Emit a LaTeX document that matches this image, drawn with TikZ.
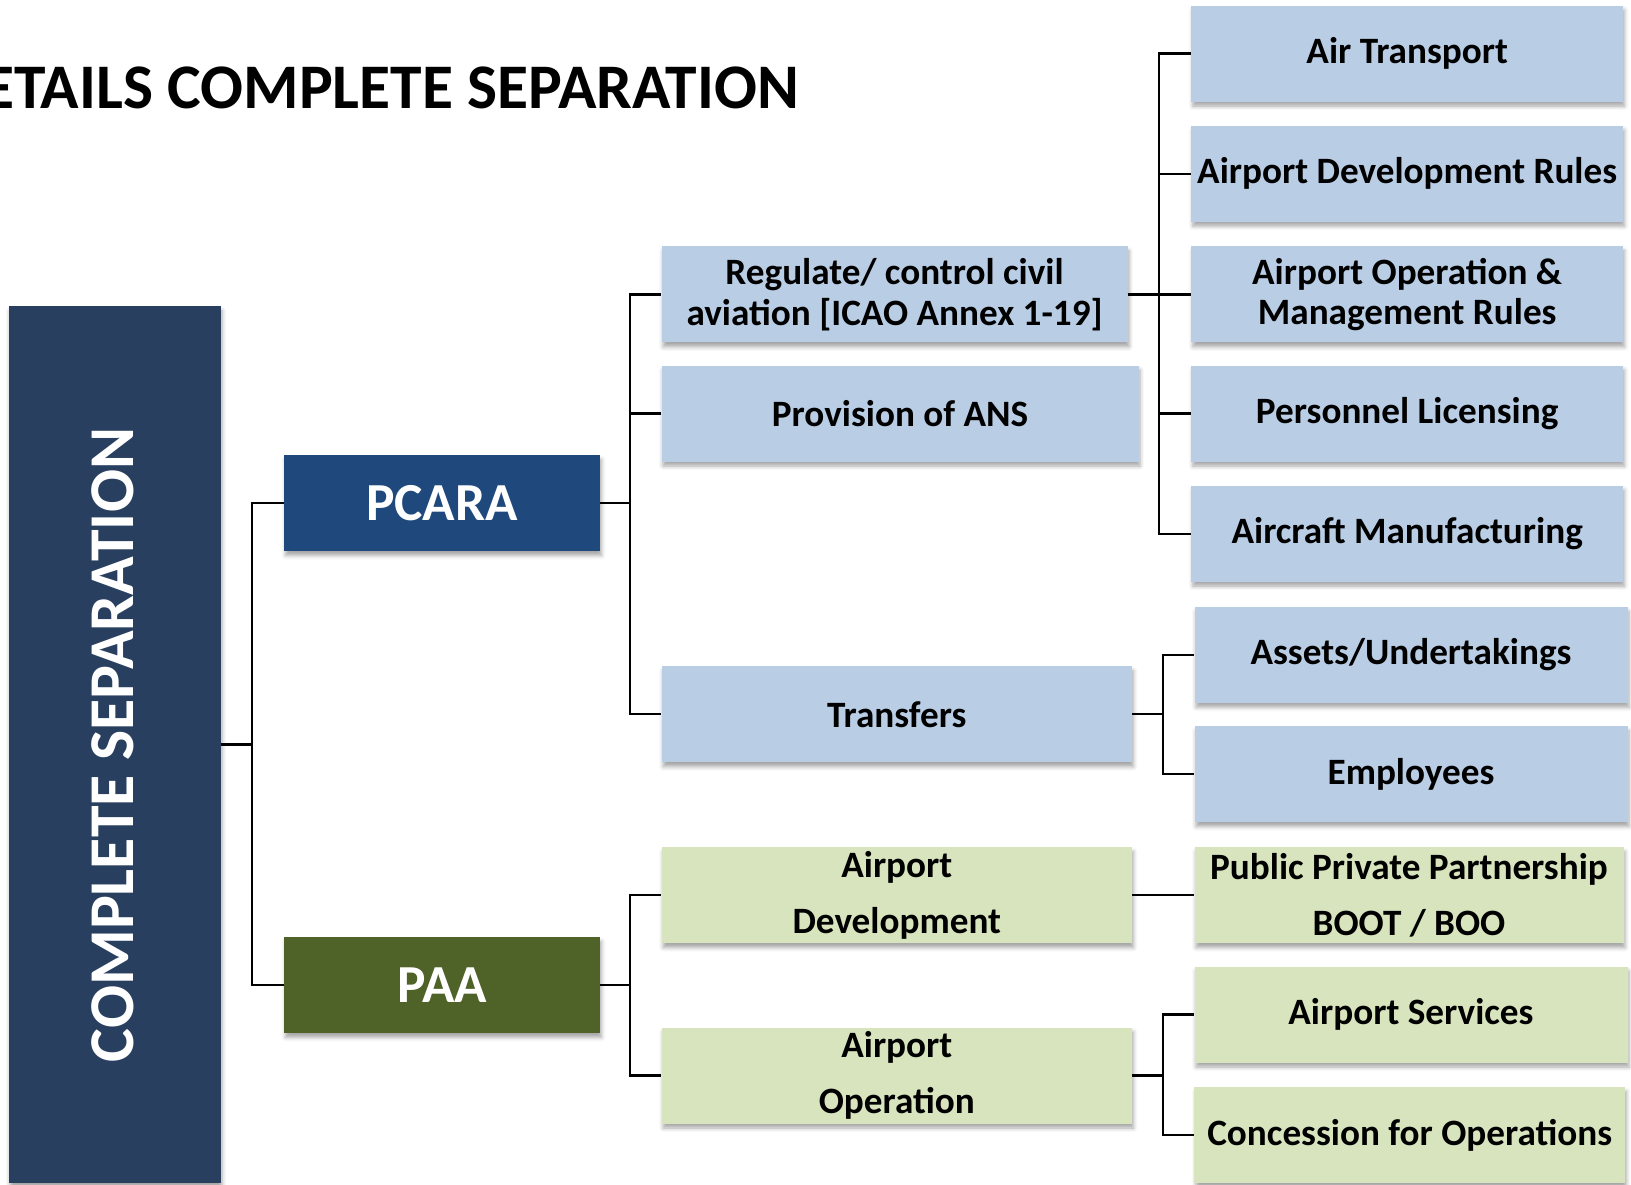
\documentclass[tikz,border=0pt]{standalone}
\usepackage{fontspec}
\setmainfont{Carlito}
\usetikzlibrary{shadows.blur,calc}
\definecolor{navy}{HTML}{283F60}
\definecolor{pcarablue}{HTML}{1F497D}
\definecolor{paagreen}{HTML}{4F6228}
\definecolor{lblue}{HTML}{B9CDE5}
\definecolor{lgreen}{HTML}{D7E4BD}
\tikzset{
  shd/.style={blur shadow={shadow xshift=1.5pt,shadow yshift=-4.5pt,shadow opacity=35,shadow blur radius=4pt}},
  lbox/.style={rectangle,inner sep=0pt,align=center,minimum height=96pt,shd,
     font=\bfseries\fontsize{37.2}{40.6}\selectfont,text=black},
  bluebox/.style={lbox,fill=lblue},
  greenbox/.style={lbox,fill=lgreen},
  twoline/.style={font=\bfseries\fontsize{37.2}{56}\selectfont},
  topbox/.style={rectangle,inner sep=0pt,minimum width=316pt,minimum height=96pt,shd,
     font=\bfseries\fontsize{53.5}{60}\selectfont,text=white},
  conn/.style={draw=black,line width=2.2pt},
}
\begin{document}
\begin{tikzpicture}[x=1pt,y=-1pt]
\useasboundingbox (0,0) rectangle (1631,1185);
% title
\node[anchor=base east,inner sep=0pt,font=\bfseries\fontsize{63.5}{72}\selectfont] (title) at (799,109) {ETAILS COMPLETE SEPARATION};
% big left box
\node[rectangle,fill=navy,inner sep=0pt,minimum width=212pt,minimum height=877pt,shd] (big) at (114.5,744.5) {};
\node[rotate=90,text=white,inner sep=0pt,font=\bfseries\fontsize{63.8}{70}\selectfont] (bigtext) at (113,745) {COMPLETE SEPARATION};
% level 1
\node[topbox,fill=pcarablue] (pcara) at (442,503) {PCARA};
\node[topbox,fill=paagreen] (paa) at (442,985) {PAA};
% level 2
\node[bluebox,minimum width=466pt] (reg) at (894.6,294.4) {Regulate/ control civil\\aviation [ICAO Annex 1-19]};
\node[bluebox,minimum width=477pt] (prov) at (900,413.5) {Provision of ANS};
\node[bluebox,minimum width=470.4pt] (trans) at (896.8,714.3) {Transfers};
\node[greenbox,twoline,minimum width=470.4pt] (adev) at (896.8,895.2) {Airport\\Development};
\node[greenbox,twoline,minimum width=470.4pt] (aop) at (896.8,1075.5) {Airport\\Operation};
% level 3
\node[bluebox,minimum width=431.6pt] (air) at (1407.2,53.6) {Air Transport};
\node[bluebox,minimum width=431.6pt] (adr) at (1407.2,173.7) {Airport Development Rules};
\node[bluebox,minimum width=431.6pt] (aom) at (1407.2,294.4) {Airport Operation \&\\Management Rules};
\node[bluebox,minimum width=431.6pt] (pl) at (1407.2,413.5) {Personnel Licensing};
\node[bluebox,minimum width=431.6pt] (am) at (1407.2,533.6) {Aircraft Manufacturing};
\node[bluebox,minimum width=433pt] (assets) at (1411,654.8) {Assets/Undertakings};
\node[bluebox,minimum width=433pt] (emp) at (1411,774) {Employees};
\node[greenbox,twoline,minimum width=429pt] (ppp) at (1409,895.2) {Public Private Partnership\\BOOT / BOO};
\node[greenbox,minimum width=433pt] (asvc) at (1411,1014.5) {Airport Services};
\node[greenbox,minimum width=430.5pt] (conc) at (1409.7,1135) {Concession for Operations};
% connectors
\draw[conn] (big.east) -| ([xshift=-31.5pt]pcara.west) -- (pcara.west);
\draw[conn] (big.east) -| ([xshift=-31.5pt]paa.west) -- (paa.west);
\draw[conn] (pcara.east) -| ([xshift=-31.2pt]reg.west) -- (reg.west);
\draw[conn] (pcara.east) -| ([xshift=-31.2pt]prov.west) -- (prov.west);
\draw[conn] (pcara.east) -| ([xshift=-31.2pt]trans.west) -- (trans.west);
\draw[conn] (paa.east) -| ([xshift=-31.2pt]adev.west) -- (adev.west);
\draw[conn] (paa.east) -| ([xshift=-31.2pt]aop.west) -- (aop.west);
\foreach \t in {air,adr,aom,pl,am}
  \draw[conn] (reg.east) -| ([xshift=-31.9pt]\t.west) -- (\t.west);
\draw[conn] (trans.east) -| ([xshift=-31pt]assets.west) -- (assets.west);
\draw[conn] (trans.east) -| ([xshift=-31pt]emp.west) -- (emp.west);
\draw[conn] (adev.east) -- (ppp.west);
\draw[conn] (aop.east) -| ([xshift=-31pt]asvc.west) -- (asvc.west);
\draw[conn] (aop.east) -| ([xshift=-31pt]conc.west) -- (conc.west);
\end{tikzpicture}
\end{document}
